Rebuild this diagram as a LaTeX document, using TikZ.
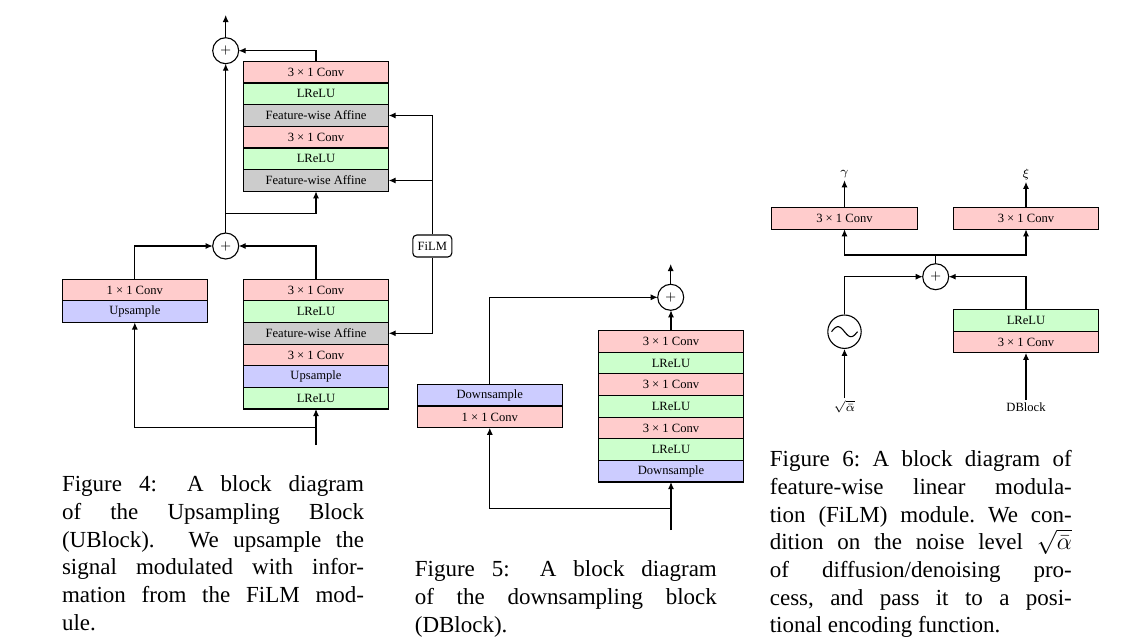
\documentclass[tikz,border=0pt]{standalone}
\usepackage{fontspec}
\setmainfont{Liberation Serif}
\usetikzlibrary{arrows.meta}
\definecolor{convred}{rgb}{1,0.8,0.8}
\definecolor{actgreen}{rgb}{0.8,1,0.8}
\definecolor{sampblue}{rgb}{0.8,0.8,1}
\definecolor{affgray}{rgb}{0.8,0.8,0.8}
\tikzset{
  blk/.style={draw, minimum width=72.7pt, minimum height=10.8pt, inner sep=0pt, outer sep=0pt, font=\fontsize{6.3}{7}\selectfont},
  conv/.style={blk, fill=convred},
  act/.style={blk, fill=actgreen},
  samp/.style={blk, fill=sampblue},
  aff/.style={blk, fill=affgray},
  addc/.style={draw, circle, minimum size=13pt, inner sep=0pt, outer sep=0pt, font=\fontsize{6}{7}\selectfont},
  filmbox/.style={draw, rounded corners=2pt, minimum width=19.5pt, minimum height=11pt, inner sep=0pt, font=\fontsize{6.3}{7}\selectfont},
  lbl/.style={inner sep=1pt, font=\fontsize{6.3}{7}\selectfont},
  arr/.style={-{Latex[length=3.5pt,width=3pt]}},
  captxt/.style={anchor=base west, inner sep=0pt, text width=151pt, align=justify, font=\fontsize{11.5}{13.85}\selectfont},
}
\begin{document}
\begin{tikzpicture}[x=0.5pt, y=-0.5pt, line width=0.55pt]
\useasboundingbox (0,0) rectangle (1126,643);
% upsampling block
\node[addc] (uadd2) at (225.7,50.7) {$+$};
\node[addc] (uadd1) at (225.7,246) {$+$};
\coordinate (uout) at (225.7,15);
\node[conv] (uc1) at (316,72.2) {3 × 1 Conv};
\node[act] (ua1) at (316,93.8) {LReLU};
\node[aff] (uf1) at (316,115.5) {Feature-wise Affine};
\node[conv] (uc2) at (316,137.2) {3 × 1 Conv};
\node[act] (ua2) at (316,158.8) {LReLU};
\node[aff] (uf2) at (316,180.5) {Feature-wise Affine};
\node[conv] (lc1) at (316,290.1) {3 × 1 Conv};
\node[act] (la1) at (316,311.7) {LReLU};
\node[aff] (lf) at (316,333.3) {Feature-wise Affine};
\node[conv] (lc2) at (316,354.9) {3 × 1 Conv};
\node[samp] (lu) at (316,376.5) {Upsample};
\node[act] (la2) at (316,398.2) {LReLU};
\node[conv] (sc) at (134.8,290.1) {1 × 1 Conv};
\node[samp] (su) at (134.8,311.7) {Upsample};
\node[filmbox] (film) at (432.3,246) {FiLM};
\coordinate (ubr) at (225.7,213.3);
\coordinate (uin) at (316,445);
\coordinate (uin2) at (316,427.3);
\draw[arr] (uadd2) -- (uout);
\draw[arr] (uc1.north) |- (uadd2.east);
\draw[arr] (uadd1) -- (uadd2);
\draw[arr] (ubr) -| (uf2.south);
\draw[arr] (lc1.north) |- (uadd1.east);
\draw[arr] (sc.north) |- (uadd1.west);
\draw[arr] (uin) -- (la2.south);
\draw[arr] (uin2) -| (su.south);
\draw[arr] (film.north) |- (uf1.east);
\draw[arr] (film.north) |- (uf2.east);
\draw[arr] (film.south) |- (lf.east);
% downsampling block
\node[addc] (dadd) at (670.7,297.3) {$+$};
\coordinate (dout) at (670.7,264);
\node[conv] (dc1) at (671,341.5) {3 × 1 Conv};
\node[act] (da1) at (671,363.1) {LReLU};
\node[conv] (dc2) at (671,384.7) {3 × 1 Conv};
\node[act] (da2) at (671,406.3) {LReLU};
\node[conv] (dc3) at (671,428) {3 × 1 Conv};
\node[act] (da3) at (671,449.6) {LReLU};
\node[samp] (dd) at (671,471.2) {Downsample};
\node[samp] (ds) at (489.8,395.1) {Downsample};
\node[conv] (dl) at (489.8,417) {1 × 1 Conv};
\coordinate (din) at (671,530);
\coordinate (dbr) at (671,508.3);
\draw[arr] (dadd) -- (dout);
\draw[arr] (dc1.north) -- (dc1.north |- dadd.south);
\draw[arr] (ds.north) |- (dadd.west);
\draw[arr] (din) -- (dd.south);
\draw[arr] (dbr) -| (dl.south);
% film module
\node[addc] (fadd) at (935.7,276.7) {$+$};
\node[conv] (fcl) at (844.5,218.5) {3 × 1 Conv};
\node[conv] (fcr) at (1026,218.5) {3 × 1 Conv};
\node[lbl] (gam) at (844.5,174) {$\gamma$};
\node[lbl] (xi) at (1026,174) {$\xi$};
\node[draw, circle, minimum size=16.7pt, inner sep=0pt] (sine) at (844.5,331.7) {};
\draw[shift={(sine.center)}] plot[domain=-13:13, samples=40, smooth] (\x, {5*sin(\x*180/13)});
\node[act] (fr1) at (1026,320.3) {LReLU};
\node[conv] (fr2) at (1026,342.1) {3 × 1 Conv};
\node[lbl] (alpha) at (844.5,407) {$\sqrt{\bar{\alpha}}$};
\node[lbl] (dbl) at (1026,407) {DBlock};
\coordinate (fbr) at (935.7,255);
\draw (fadd) -- (fbr);
\draw[arr] (fbr) -| (fcl.south);
\draw[arr] (fbr) -| (fcr.south);
\draw[arr] (fcl.north) -- (gam.south);
\draw[arr] (fcr.north) -- (xi.south);
\draw[arr] (sine.north) |- (fadd.west);
\draw[arr] (fr1.north) |- (fadd.east);
\draw[arr] (alpha.north) -- (sine.south);
\draw[arr] (dbl.north) -- (fr2.south);
% captions
\node[captxt] (cap4) at (61.5,491.7) {Figure 4: A block diagram\linebreak
of the Upsampling Block\linebreak
(UBlock). We upsample the\linebreak
signal modulated with infor-\linebreak
mation from the FiLM mod-\linebreak
ule.};
\node[captxt] (cap5) at (414.3,576.7) {Figure 5: A block diagram\linebreak
of the downsampling block\linebreak
(DBlock).};
\node[captxt] (cap6) at (769.3,466.7) {\frenchspacing Figure 6: A block diagram of\linebreak
feature-wise linear modula-\linebreak
tion (FiLM) module. We con-\linebreak
dition on the noise level $\sqrt{\bar{\alpha}}$\linebreak
of diffusion/denoising pro-\linebreak
cess, and pass it to a posi-\linebreak
tional encoding function.};
\end{tikzpicture}
\end{document}
